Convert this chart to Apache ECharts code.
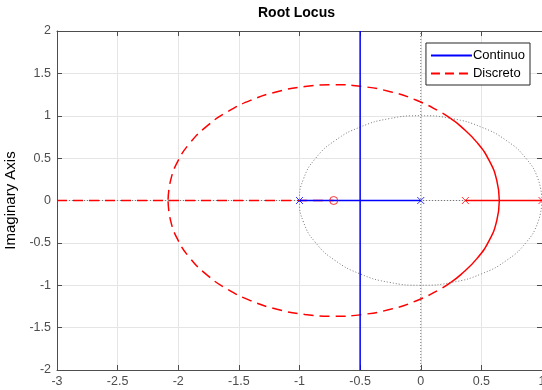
<!DOCTYPE html>
<html>
<head>
<meta charset="utf-8">
<script src="https://cdn.jsdelivr.net/npm/echarts@6/dist/echarts.min.js"></script>
<style>
  html, body { margin: 0; padding: 0; background: #fff; }
  #chart { width: 542px; height: 390px; }
</style>
</head>
<body>
<div id="chart"></div>
<script>
// Continuous-time locus: poles at 0 and -1, branches meet at -0.5 and go vertical
const contPoles = [[-1, 0], [0, 0]];
const contRealSegment = [[-1, 0], [0, 0]];
const contVertical = [[-0.5, -2], [-0.5, 2]];

// Discrete-time locus: poles at 0.368 and 1, zero at -0.718
const discPoles = [[0.368, 0], [1, 0]];
const discZeros = [[-0.718, 0]];
const discRealRight = [[0.368, 0], [1, 0]];
const discRealLeft = [[-3, 0], [-2.084, 0], [-0.718, 0]];

// Circular branch, upper half: inside unit circle (solid part)
const discArcUpperIn = [
  [0.648, 0], [0.627, 0.237], [0.566, 0.467], [0.465, 0.683],
  [0.328, 0.878], [0.248, 0.966]
];
// Upper half, outside unit circle
const discArcUpperOut = [
  [0.248, 0.966], [0.160, 1.046], [-0.035, 1.183], [-0.251, 1.284],
  [-0.481, 1.345], [-0.718, 1.366], [-0.955, 1.345], [-1.185, 1.284],
  [-1.401, 1.183], [-1.596, 1.046], [-1.764, 0.878], [-1.901, 0.683],
  [-2.002, 0.467], [-2.063, 0.237], [-2.084, 0]
];
// Lower half, inside unit circle
const discArcLowerIn = [
  [0.648, 0], [0.627, -0.237], [0.566, -0.467], [0.465, -0.683],
  [0.328, -0.878], [0.248, -0.966]
];
// Lower half, outside unit circle
const discArcLowerOut = [
  [0.248, -0.966], [0.160, -1.046], [-0.035, -1.183], [-0.251, -1.284],
  [-0.481, -1.345], [-0.718, -1.366], [-0.955, -1.345], [-1.185, -1.284],
  [-1.401, -1.183], [-1.596, -1.046], [-1.764, -0.878], [-1.901, -0.683],
  [-2.002, -0.467], [-2.063, -0.237], [-2.084, 0]
];

// Unit circle reference (z-plane stability boundary)
const unitCircle = [
  [1, 0], [0.966, 0.259], [0.866, 0.5], [0.707, 0.707], [0.5, 0.866],
  [0.259, 0.966], [0, 1], [-0.259, 0.966], [-0.5, 0.866], [-0.707, 0.707],
  [-0.866, 0.5], [-0.966, 0.259], [-1, 0], [-0.966, -0.259], [-0.866, -0.5],
  [-0.707, -0.707], [-0.5, -0.866], [-0.259, -0.966], [0, -1], [0.259, -0.966],
  [0.5, -0.866], [0.707, -0.707], [0.866, -0.5], [0.966, -0.259], [1, 0]
];
const realAxisRef = [[-3, 0], [1, 0]];
const imagAxisRef = [[0, -2], [0, 2]];

const xRange = [-3, 1];
const yRange = [-2, 2];
const tickStep = 0.5;
const legendNames = ['Continuo', 'Discreto'];

const FONT = 'Liberation Sans, Arial, Helvetica, sans-serif';
const AXIS_COLOR = '#4d4d4d';
const BLUE = '#0000ff';
const RED = '#ff0000';
const crossPath = 'path://M0,0L10,10M10,0L0,10';

function baseAxis(range, extra) {
  return Object.assign({
    type: 'value',
    min: range[0],
    max: range[1],
    interval: tickStep,
    axisLine: { show: true, onZero: false, lineStyle: { color: AXIS_COLOR, width: 1 } },
    axisTick: { show: true, inside: true, length: 5, lineStyle: { color: AXIS_COLOR } },
    splitLine: { show: false }
  }, extra);
}

const chart = echarts.init(document.getElementById('chart'), null, { renderer: 'canvas' });

function lineSeries(name, data, color, type, width, z) {
  return {
    name: name,
    type: 'line',
    data: data,
    symbol: 'none',
    smooth: false,
    silent: true,
    animation: false,
    z: z || 2,
    lineStyle: { color: color, width: width, type: type },
    itemStyle: { color: color }
  };
}

function smoothSeries(name, data, color, type, width, z) {
  const s = lineSeries(name, data, color, type, width, z);
  s.smooth = 0.5;
  return s;
}

chart.setOption({
  animation: false,
  backgroundColor: '#ffffff',
  textStyle: { fontFamily: FONT },
  title: {
    text: 'Root Locus',
    left: 258,
    top: 6,
    padding: 0,
    textStyle: { fontFamily: FONT, fontSize: 14, fontWeight: 'bold', color: '#000' }
  },
  legend: {
    data: legendNames,
    orient: 'vertical',
    right: 12,
    top: 43,
    backgroundColor: '#ffffff',
    borderColor: '#262626',
    borderWidth: 1,
    borderRadius: 0,
    padding: [6, 5, 5, 4],
    itemWidth: 41,
    itemHeight: 12,
    itemGap: 5,
    itemStyle: { opacity: 0 },
    textStyle: { fontFamily: FONT, fontSize: 13, color: '#000', padding: [0, 0, 0, -4] }
  },
  grid: { left: 57, right: 0, top: 31, bottom: 20, containLabel: false, outerBoundsMode: 'none' },
  xAxis: [
    baseAxis(xRange, {
      position: 'bottom',
      axisLabel: { show: true, color: AXIS_COLOR, fontSize: 12.5, fontFamily: FONT, margin: 5,
                   showMinLabel: true, showMaxLabel: true },
      splitLine: { show: true, lineStyle: { color: '#e5e5e5', width: 1 } }
    }),
    baseAxis(xRange, { position: 'top', axisLabel: { show: false } })
  ],
  yAxis: [
    baseAxis(yRange, {
      position: 'left',
      name: 'Imaginary Axis',
      nameLocation: 'middle',
      nameGap: 31,
      nameTextStyle: { fontFamily: FONT, fontSize: 15, color: '#000' },
      axisLabel: { show: true, color: AXIS_COLOR, fontSize: 12.5, fontFamily: FONT, margin: 6 },
      splitLine: { show: true, lineStyle: { color: '#e5e5e5', width: 1 } }
    }),
    baseAxis(yRange, { position: 'right', axisLabel: { show: false } })
  ],
  series: [
    // legend keys (no data; thin strokes for the legend swatches)
    lineSeries('Continuo', [], BLUE, 'solid', 1, 0),
    lineSeries('Discreto', [], RED, [9, 5], 1, 0),

    // reference grid of the s/z plane
    lineSeries('refReal', realAxisRef, '#777777', [1, 2], 1, 1),
    lineSeries('refImag', imagAxisRef, '#777777', [1, 2], 1, 1),
    smoothSeries('refUnit', unitCircle, '#777777', [1, 2], 1, 1),

    // discrete locus
    lineSeries('Discreto', discRealLeft, RED, [10, 6], 1.5, 3),
    smoothSeries('Discreto', discArcUpperOut, RED, [10, 6], 1.5, 3),
    smoothSeries('Discreto', discArcLowerOut, RED, [10, 6], 1.5, 3),
    smoothSeries('Discreto', discArcUpperIn, RED, 'solid', 1.5, 3),
    smoothSeries('Discreto', discArcLowerIn, RED, 'solid', 1.5, 3),
    lineSeries('Discreto', discRealRight, RED, 'solid', 1.5, 3),

    // continuous locus
    lineSeries('Continuo', contVertical, BLUE, 'solid', 1.5, 4),
    lineSeries('Continuo', contRealSegment, BLUE, 'solid', 1.5, 4),

    // poles and zeros
    {
      name: 'contPoles', type: 'scatter', data: contPoles, z: 5, silent: true,
      symbol: crossPath, symbolSize: 7,
      itemStyle: { color: 'transparent', borderColor: BLUE, borderWidth: 1 }
    },
    {
      name: 'discPoles', type: 'scatter', data: discPoles, z: 5, silent: true,
      symbol: crossPath, symbolSize: 7,
      itemStyle: { color: 'transparent', borderColor: RED, borderWidth: 1 }
    },
    {
      name: 'discZeros', type: 'scatter', data: discZeros, z: 5, silent: true,
      symbol: 'circle', symbolSize: 8,
      itemStyle: { color: 'transparent', borderColor: RED, borderWidth: 1 }
    }
  ]
});
</script>
</body>
</html>
